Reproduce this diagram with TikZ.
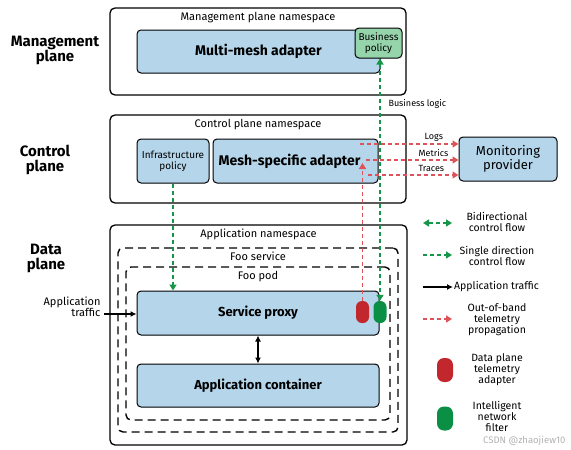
\documentclass[tikz,border=0pt]{standalone}
\usepackage{fontspec}
\setmainfont{Fira Sans}
\usetikzlibrary{arrows.meta}
\definecolor{BoxClr}{RGB}{180,213,234}
\definecolor{PolicyClr}{RGB}{150,212,172}
\definecolor{CtrlClr}{RGB}{22,150,72}
\definecolor{TeleClr}{RGB}{222,82,90}
\definecolor{RedPillClr}{RGB}{193,39,45}
\definecolor{GreenPillClr}{RGB}{10,143,69}

\begin{document}
\begin{tikzpicture}[x=1pt,y=-1pt,
  ns/.style={draw,line width=1.3pt,rounded corners=5pt,inner sep=0pt},
  dashbox/.style={draw,line width=1.4pt,dash pattern=on 8pt off 5pt,rounded corners=5pt,inner sep=0pt},
  part/.style={draw,fill=BoxClr,line width=1pt,rounded corners=4pt,inner sep=0pt,align=center},
  pill/.style={rounded corners=6pt,minimum width=13pt,minimum height=22pt,inner sep=0pt},
  ctrl/.style={CtrlClr,line width=2pt,dash pattern=on 4pt off 3pt,-{Triangle[length=6pt,width=7pt]}},
  tele/.style={TeleClr,line width=1.5pt,dash pattern=on 4pt off 3pt,-{Triangle[length=6pt,width=7pt]}},
  traffic/.style={black,line width=1.2pt,-{Latex[length=6pt,width=6pt]}},
  plane/.style={font=\fontsize{15}{15}\selectfont\bfseries,align=center},
  ttl/.style={font=\fontsize{11}{12}\selectfont},
  leg/.style={font=\fontsize{10.5}{11}\selectfont,align=center}]
\useasboundingbox (0,0) rectangle (571,450);

% planes
\node[plane] (MgmtLbl) at (55,50) {Management\\plane};
\node[plane] (CtrlLbl) at (45,160) {Control\\plane};
\node[plane] (DataLbl) at (46,258) {Data\\plane};

% management plane
\node[ns,minimum width=296pt,minimum height=87pt] (MgmtNs) at (258,51.5) {};
\node[ttl,below] (MgmtTtl) at ([yshift=-1pt]MgmtNs.north) {Management plane namespace};
\node[part,minimum width=243pt,minimum height=43pt,font=\fontsize{14}{14}\selectfont\bfseries] (Multi) at (258.5,51.5) {Multi-mesh adapter};
\node[part,fill=PolicyClr,minimum width=47pt,minimum height=30pt,font=\fontsize{10}{11}\selectfont] (BusPol) at (378.5,43) {Business\\policy};

% control plane
\node[ns,minimum width=296pt,minimum height=88pt] (CtrlNs) at (258,159) {};
\node[ttl,below] (CtrlTtl) at ([yshift=-1pt]CtrlNs.north) {Control plane namespace};
\node[part,minimum width=72pt,minimum height=44pt,font=\fontsize{10}{11}\selectfont] (InfraPol) at (173,161) {Infrastructure\\policy};
\node[part,minimum width=165pt,minimum height=44pt,font=\fontsize{14}{14}\selectfont\bfseries] (MeshAd) at (295.5,161) {Mesh-specific adapter\hspace{12pt}};
\node[part,minimum width=98pt,minimum height=44pt,font=\fontsize{13}{14}\selectfont] (Monitor) at (508,159) {Monitoring\\provider};

% data plane
\node[ns,minimum width=297pt,minimum height=220pt] (AppNs) at (258.5,335) {};
\node[ttl,below] (AppTtl) at ([yshift=-1pt]AppNs.north) {Application namespace};
\node[dashbox,minimum width=280pt,minimum height=184pt] (FooSvc) at (258,340) {};
\node[ttl,below] (SvcTtl) at ([yshift=-1pt]FooSvc.north) {Foo service};
\node[dashbox,minimum width=264pt,minimum height=153pt] (FooPod) at (258,343.5) {};
\node[ttl,below] (PodTtl) at ([yshift=-1pt]FooPod.north) {Foo pod};
\node[part,minimum width=242pt,minimum height=44pt,font=\fontsize{13}{14}\selectfont\bfseries] (Proxy) at (258,313) {Service proxy};
\node[part,minimum width=242pt,minimum height=43pt,font=\fontsize{13}{14}\selectfont\bfseries] (AppCont) at (258,385.5) {Application container};
\node[pill,fill=RedPillClr] (RedPill) at (362.5,312) {};
\node[pill,fill=GreenPillClr] (GreenPill) at (380,312) {};
\node[align=right,font=\fontsize{11}{11}\selectfont,anchor=east] (TrafficLbl) at (104,307) {Application\\traffic};

% control flow
\draw[ctrl,{Triangle[length=6pt,width=7pt]}-{Triangle[length=6pt,width=7pt]}] (GreenPill.north |- BusPol.south) -- (GreenPill.north);
\node[anchor=west,font=\fontsize{9}{9}\selectfont] (BizLogic) at (385,104) {Business logic};
\draw[ctrl] (InfraPol.south) -- (InfraPol.south |- Proxy.north);

% telemetry
\coordinate (RedTop) at (362.5,163);
\draw[tele] (RedPill.north) -- (RedTop);
\coordinate (LogsSt) at (360,144);
\coordinate (MetricsSt) at (366,160);
\coordinate (TracesSt) at (368,175);
\draw[tele] (LogsSt) -- (Monitor.west |- LogsSt) node[pos=0.75,above=-1pt,black,font=\fontsize{9}{9}\selectfont] {Logs};
\draw[tele] (MetricsSt) -- (Monitor.west |- MetricsSt) node[pos=0.73,above=-1pt,black,font=\fontsize{9}{9}\selectfont] {Metrics};
\draw[tele] (TracesSt) -- (Monitor.west |- TracesSt) node[pos=0.7,above=-1pt,black,font=\fontsize{9}{9}\selectfont] {Traces};

% app traffic
\draw[traffic] (TrafficLbl.east |- 0,314) -- (Proxy.west |- 0,314);
\draw[traffic,{Latex[length=6pt,width=6pt]}-{Latex[length=6pt,width=6pt]}] (Proxy.south) -- (AppCont.north);

% legend
\coordinate (LegA1) at (423,223); \coordinate (LegA2) at (452,223);
\coordinate (LegB1) at (423,255); \coordinate (LegB2) at (452,255);
\coordinate (LegC1) at (423,287); \coordinate (LegC2) at (453,287);
\coordinate (LegD1) at (423,319); \coordinate (LegD2) at (452,319);
\draw[ctrl,{Triangle[length=6pt,width=7pt]}-{Triangle[length=6pt,width=7pt]}] (LegA1) -- (LegA2);
\draw[ctrl] (LegB1) -- (LegB2);
\draw[traffic] (LegC1) -- (LegC2);
\draw[tele] (LegD1) -- (LegD2);
\node[leg] (LegA) at (497,222) {Bidirectional\\control flow};
\node[leg] (LegB) at (497,256) {Single direction\\control flow};
\node[leg,anchor=west,inner sep=1pt] (LegC) at (LegC2) {Application traffic};
\node[leg] (LegD) at (497,320) {Out-of-band\\telemetry\\propagation};
\node[pill,fill=RedPillClr,minimum width=16pt,minimum height=24pt,rounded corners=7pt] (LegRed) at (445,370) {};
\node[leg] (LegE) at (497,370) {Data plane\\telemetry\\adapter};
\node[pill,fill=GreenPillClr,minimum width=16pt,minimum height=24pt,rounded corners=7pt] (LegGreen) at (445,418.5) {};
\node[leg] (LegF) at (497,416) {Intelligent\\network\\filter};
\node[anchor=east,gray!60,font=\fontsize{9.5}{10}\selectfont] (Mark) at (569,441) {CSDN @zhaojiew10};

\end{tikzpicture}
\end{document}
